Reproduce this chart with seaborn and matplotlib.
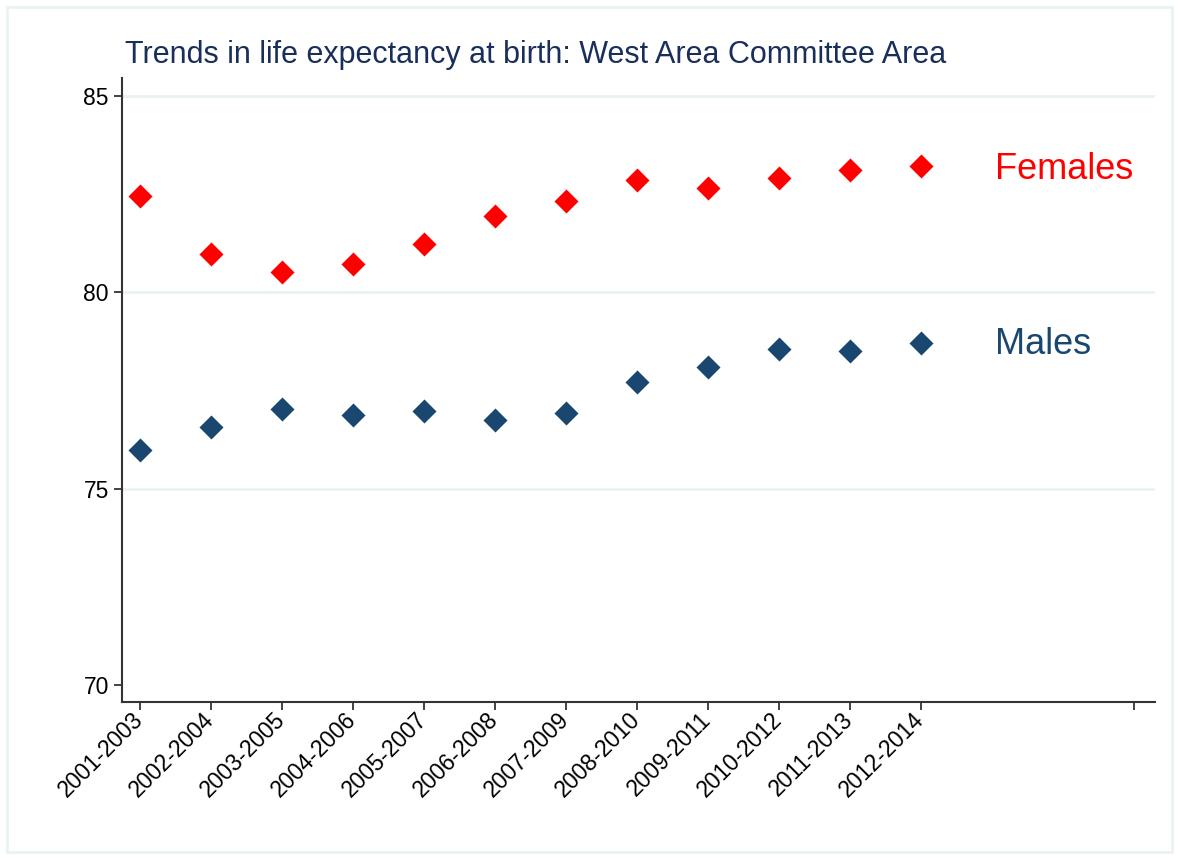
import matplotlib
matplotlib.use("Agg")
import matplotlib.pyplot as plt
import matplotlib.patches as mpatches
import seaborn as sns

# Data
periods = ['2001-2003', '2002-2004', '2003-2005', '2004-2006', '2005-2007', '2006-2008',
           '2007-2009', '2008-2010', '2009-2011', '2010-2012', '2011-2013', '2012-2014']
females = [82.45, 80.98, 80.52, 80.72, 81.23, 81.94, 82.33, 82.86, 82.66, 82.91, 83.12, 83.22]
males = [75.99, 76.57, 77.03, 76.88, 76.98, 76.75, 76.93, 77.72, 78.10, 78.56, 78.51, 78.71]
y_ticks = [70, 75, 80, 85]

red = '#ff0000'
navy = '#1a476f'
grid_col = '#eaf2f3'

sns.set_theme(style="white")
plt.rcParams['font.family'] = ['Liberation Sans', 'DejaVu Sans']

fig = plt.figure(figsize=(11.79, 8.59), dpi=100)
ax = fig.add_axes([122 / 1179, 1 - 702 / 859, (1155 - 122) / 1179, (702 - 78) / 859])

# light outer frame like the Stata graph region
fig.patches.append(mpatches.Rectangle((7 / 1179, 7 / 859), 1165 / 1179, 845 / 859,
                                      transform=fig.transFigure, fill=False,
                                      edgecolor=grid_col, linewidth=2))

for yv in y_ticks[1:]:
    ax.axhline(yv, color=grid_col, linewidth=2, zorder=0)

sns.scatterplot(x=periods, y=females, marker='D', s=150, color=red, edgecolor=red,
                linewidth=0, ax=ax, zorder=3)
sns.scatterplot(x=periods, y=males, marker='D', s=150, color=navy, edgecolor=navy,
                linewidth=0, ax=ax, zorder=3)

ax.text(12.05, females[-1] - 0.08, 'Females', color=red, fontsize=26, va='center', ha='left')
ax.text(12.05, males[-1] - 0.04, 'Males', color=navy, fontsize=26, va='center', ha='left')

ax.set_xlim(-0.25, 14.3)
ax.set_ylim(69.57, 85.46)
ax.set_xticks(list(range(len(periods))) + [14])
ax.set_xticklabels(periods + [''], rotation=45, ha='right', va='center',
                   rotation_mode='anchor', fontsize=16.5, color='black')
ax.set_yticks(y_ticks)
ax.set_yticklabels([str(v) for v in y_ticks], fontsize=16.5, color='black')
ax.tick_params(axis='both', direction='out', length=6, width=1.2, color='#222222',
               left=True, bottom=True)
ax.tick_params(axis='x', pad=4)
ax.set_xlabel('')
ax.set_ylabel('')

for side in ['top', 'right']:
    ax.spines[side].set_visible(False)
for side in ['left', 'bottom']:
    ax.spines[side].set_color('#333333')
    ax.spines[side].set_linewidth(1.5)

fig.text(125 / 1179, 1 - 55 / 859, 'Trends in life expectancy at birth: West Area Committee Area',
         color='#1a2e5a', fontsize=22, va='center', ha='left')

fig.savefig("out.png", dpi=100, facecolor='white')
